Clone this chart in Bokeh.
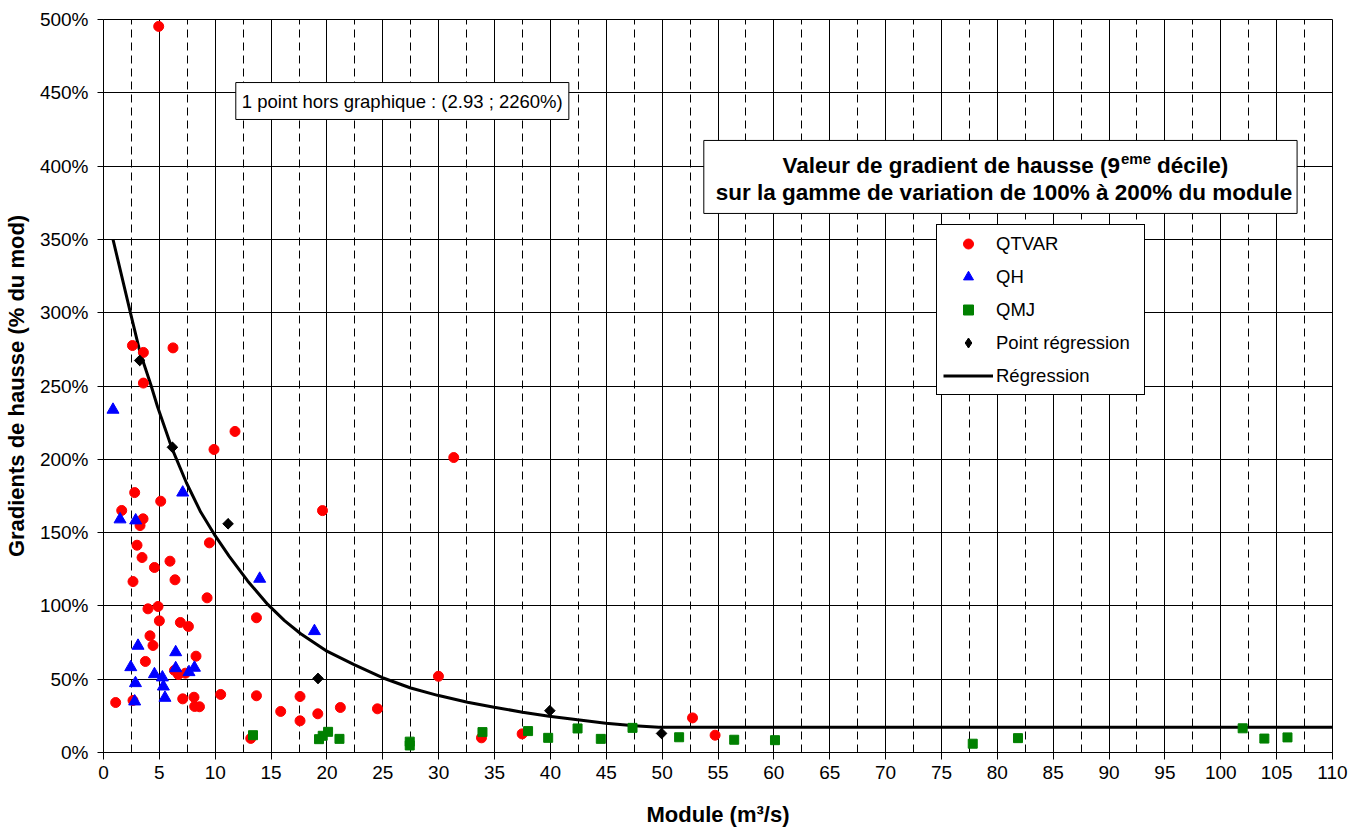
import numpy as np
from bokeh.plotting import figure
from bokeh.models import (FixedTicker, Grid, PrintfTickFormatter, Label,
                          BoxAnnotation, Legend, LegendItem, Range1d)
from bokeh.embed import file_html
from bokeh.resources import INLINE

# --- data: module (m3/s) vs 9th-decile rise gradient (% of module) ---
qtvar_x = [1.63, 3.54, 3.27, 3.00, 3.45, 4.56, 5.95, 2.64, 6.40, 9.48, 9.27, 3.98,
           4.88, 5.00, 6.88, 7.60, 4.16, 4.43, 8.28, 3.75, 6.35, 6.70, 7.33, 1.09,
           2.64, 7.09, 8.10, 8.16, 8.59, 10.49, 13.69, 13.69, 13.18, 15.86, 5.12,
           2.59, 3.57, 6.22, 3.57, 9.89, 11.77, 2.79, 19.60, 17.59, 17.59, 19.18,
           21.20, 24.52, 29.98, 33.83, 37.47, 52.72, 54.74, 4.94, 31.35]
qtvar_y = [165.1, 159.4, 154.8, 141.4, 133.0, 126.2, 130.5, 116.6, 117.8, 143.0,
           105.5, 98.0, 99.6, 89.8, 88.7, 86.0, 79.6, 73.0, 65.7, 62.1, 56.0, 53.2,
           54.1, 34.1, 35.5, 36.6, 37.7, 31.4, 31.2, 39.6, 38.7, 91.9, 9.6, 28.0,
           171.4, 277.6, 272.9, 276.0, 252.0, 206.7, 219.0, 177.3, 165.0, 38.2,
           21.6, 26.4, 30.7, 29.8, 52.0, 10.0, 12.7, 23.6, 11.8, 495.3, 201.2]

qh_x = [0.85, 1.48, 2.88, 7.09, 13.98, 18.88, 3.09, 6.46, 2.44, 6.46, 4.56, 5.27,
        8.14, 7.65, 2.86, 5.36, 5.50, 2.79]
qh_y = [233.8, 159.0, 158.3, 177.3, 118.5, 82.8, 72.8, 68.4, 58.2, 57.5, 53.4,
        51.2, 57.8, 54.8, 47.3, 45.0, 37.3, 34.8]

qmj_x = [13.38, 19.29, 19.62, 20.10, 21.12, 27.41, 27.41, 33.92, 38.00, 39.80,
         42.43, 44.51, 47.35, 51.52, 56.45, 60.10, 77.80, 81.85, 101.96, 103.90,
         105.97]
qmj_y = [11.8, 9.1, 11.4, 14.1, 9.3, 7.4, 4.8, 13.9, 14.6, 10.0, 16.4, 9.3, 16.8,
         10.4, 8.7, 8.4, 6.0, 9.8, 16.5, 9.5, 10.3]

regpt_x = [3.24, 6.17, 11.15, 19.20, 39.95, 49.95]
regpt_y = [267.4, 208.2, 156.0, 50.5, 28.5, 13.0]

reg_x = [0.85, 2.44, 3.27, 4.23, 4.83, 6.10, 7.42, 8.70, 9.90, 11.24, 12.90, 14.70,
         16.20, 17.65, 19.90, 22.43, 24.97, 27.50, 29.90, 32.58, 34.96, 37.50,
         39.88, 42.43, 44.96, 47.50, 49.70, 110.0]
reg_y = [350.0, 299.0, 273.0, 251.0, 236.0, 208.0, 184.0, 164.0, 149.0, 134.0,
         117.0, 101.0, 90.0, 81.0, 69.5, 60.0, 51.0, 44.0, 39.0, 34.3, 30.9, 27.5,
         24.8, 22.3, 20.0, 18.2, 17.3, 17.3]

x_major = list(range(0, 111, 5))
x_minor = [2.5 + 5 * k for k in range(22)]
y_major = list(range(0, 501, 50))

FONT = "Liberation Sans"

p = figure(frame_width=1229, frame_height=733,
           min_border_left=103, min_border_right=18,
           min_border_top=19, min_border_bottom=80,
           x_range=Range1d(0, 110), y_range=Range1d(0, 500),
           output_backend="svg", toolbar_location=None)
p.background_fill_color = "white"
p.border_fill_color = "white"
p.outline_line_color = "#000000"
p.outline_line_width = 1

# axes
for ax in (p.xaxis[0], p.yaxis[0]):
    ax.major_label_text_font = FONT
    ax.major_label_text_font_size = "19px"
    ax.major_label_text_color = "black"
    ax.axis_label_text_font = FONT
    ax.axis_label_text_font_size = "22px"
    ax.axis_label_text_font_style = "bold"
    ax.axis_label_text_color = "black"
    ax.minor_tick_line_color = None
    ax.major_tick_in = 0
    ax.major_tick_line_color = "black"
    ax.axis_line_color = "black"

p.xaxis.ticker = FixedTicker(ticks=x_major)
p.xaxis.major_tick_out = 7
p.xaxis.major_label_standoff = 6
p.xaxis.axis_label = "Module (m³/s)"
p.xaxis.axis_label_standoff = 20

p.yaxis.ticker = FixedTicker(ticks=y_major)
p.yaxis.formatter = PrintfTickFormatter(format="%d%%")
p.yaxis.major_tick_out = 6
p.yaxis.major_label_standoff = 9
p.yaxis.axis_label = "Gradients de hausse (% du mod)"
p.yaxis.axis_label_standoff = 8

# grids: solid every 5 / 50 %, dashed half-steps on x
p.xgrid.ticker = FixedTicker(ticks=x_major)
p.xgrid.grid_line_color = "black"
p.xgrid.grid_line_width = 1
p.ygrid.ticker = FixedTicker(ticks=y_major)
p.ygrid.grid_line_color = "black"
p.ygrid.grid_line_width = 1
p.add_layout(Grid(dimension=0, ticker=FixedTicker(ticks=x_minor),
                  grid_line_color="black", grid_line_width=1,
                  grid_line_dash="8 5"))

# series
r_reg = p.line(reg_x, reg_y, line_color="black", line_width=3)
r_qtvar = p.scatter(qtvar_x, qtvar_y, marker="circle", size=10,
                    fill_color="#FF0000", line_color="#FF0000")
r_qh = p.scatter(qh_x, qh_y, marker="triangle", size=12,
                 fill_color="#0000FF", line_color="#0000FF")
r_qmj = p.scatter(qmj_x, qmj_y, marker="square", size=9,
                  fill_color="#008000", line_color="#008000")
# regression points: a diamond glyph (used as legend key, since legend
# glyphs are never rotated) covered by a 45-degree square of equal extent
r_pt_key = p.scatter(regpt_x, regpt_y, marker="diamond", size=10,
                     fill_color="black", line_color="black")
r_pt = p.scatter(regpt_x, regpt_y, marker="square", angle=np.pi / 4, size=7.5,
                 fill_color="black", line_color="black")

legend = Legend(items=[
    LegendItem(label="QTVAR", renderers=[r_qtvar]),
    LegendItem(label="QH", renderers=[r_qh]),
    LegendItem(label="QMJ", renderers=[r_qmj]),
    LegendItem(label="Point régression", renderers=[r_pt_key]),
    LegendItem(label="Régression", renderers=[r_reg]),
], location=(833, 357))
legend.label_text_font = FONT
legend.label_text_font_size = "18.5px"
legend.label_text_color = "black"
legend.glyph_width = 50
legend.glyph_height = 25
legend.label_height = 25
legend.label_width = 142
legend.label_standoff = 3
legend.spacing = 8
legend.padding = 6
legend.margin = 0
legend.border_line_color = "black"
legend.border_line_alpha = 1
legend.border_line_width = 1
legend.background_fill_color = "white"
legend.background_fill_alpha = 1
p.add_layout(legend)

# note about the off-scale point
p.add_layout(BoxAnnotation(left=11.84, right=41.65, bottom=431.8, top=457.0,
                           fill_color="white", fill_alpha=1,
                           line_color="black", line_alpha=1, line_width=1))
p.add_layout(Label(x=26.74, y=444.4, text="1 point hors graphique : (2.93 ; 2260%)",
                   text_font=FONT, text_font_size="18.5px", text_color="black",
                   text_align="center", text_baseline="middle"))

# title box
p.add_layout(BoxAnnotation(left=53.73, right=106.83, bottom=367.7, top=417.5,
                           fill_color="white", fill_alpha=1,
                           line_color="black", line_alpha=1, line_width=1))
tx = 80.6
p.add_layout(Label(x=tx, y=400.4, x_offset=116, text="Valeur de gradient de hausse (9",
                   text_font=FONT, text_font_size="22.5px", text_font_style="bold",
                   text_color="black", text_align="right", text_baseline="middle"))
p.add_layout(Label(x=tx, y=400.4, x_offset=117, y_offset=7, text="eme",
                   text_font=FONT, text_font_size="15px", text_font_style="bold",
                   text_color="black", text_align="left", text_baseline="middle"))
p.add_layout(Label(x=tx, y=400.4, x_offset=153, text="décile)",
                   text_font=FONT, text_font_size="22.5px", text_font_style="bold",
                   text_color="black", text_align="left", text_baseline="middle"))
p.add_layout(Label(x=tx, y=382.0,
                   text="sur la gamme de variation de 100% à 200% du module",
                   text_font=FONT, text_font_size="22.5px", text_font_style="bold",
                   text_color="black", text_align="center", text_baseline="middle"))

open("out.html", "w").write(file_html(p, INLINE))
